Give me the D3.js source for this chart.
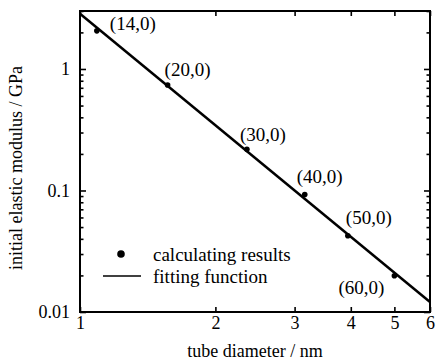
<!DOCTYPE html>
<html><head><meta charset="utf-8">
<script src="https://cdn.jsdelivr.net/npm/d3@7"></script>
<style>
html,body{margin:0;padding:0;background:#fff;}
svg{display:block;}
text{font-family:"Liberation Serif","Times New Roman",serif;fill:#000;}
</style></head>
<body><div id="chart"></div>
<script>
const chiralities = ["(14,0)","(20,0)","(30,0)","(40,0)","(50,0)","(60,0)"];
const diameters = [1.09, 1.566, 2.35, 3.16, 3.94, 5.0];
const modulus = [2.06, 0.738, 0.218, 0.0927, 0.0424, 0.0199];
const fitDiameter = [1, 6];
const fitModulus = [2.85, 0.0121];
const xTicks = [1, 2, 3, 4, 5, 6];
const yTicks = [0.01, 0.1, 1];
const yTickLabels = ["0.01", "0.1", "1"];
const legendLabels = ["calculating results", "fitting function"];
const xTitle = "tube diameter / nm";
const yTitle = "initial elastic modulus / GPa";

const W = 438, H = 363;
const m = {l:80, r:8, t:11, b:51};
const FONT = "Liberation Serif";
const svg = d3.select("#chart").append("svg").attr("width", W).attr("height", H);
const x = d3.scaleLog().domain([1, 6]).range([m.l, W - m.r]);
const y = d3.scaleLog().domain([0.01, 3]).range([H - m.b, m.t]);

const yMinor = [];
[0.01, 0.1, 1].forEach(d => { for (let k = 2; k <= 9; k++) { const v = d * k; if (v <= 3) yMinor.push(v); } });

const fs = 18;
const axB = svg.append("g").attr("transform", `translate(0,${H - m.b})`)
  .call(d3.axisBottom(x).tickValues(xTicks).tickFormat(d3.format("d")).tickSizeInner(-5).tickSizeOuter(0).tickPadding(4));
const axT = svg.append("g").attr("transform", `translate(0,${m.t})`)
  .call(d3.axisTop(x).tickValues(xTicks).tickFormat("").tickSizeInner(-5).tickSizeOuter(0));
const axL = svg.append("g").attr("transform", `translate(${m.l},0)`)
  .call(d3.axisLeft(y).tickValues(yTicks).tickFormat((d,i) => yTickLabels[i]).tickSizeInner(-6).tickSizeOuter(0).tickPadding(10));
const axR = svg.append("g").attr("transform", `translate(${W - m.r},0)`)
  .call(d3.axisRight(y).tickValues(yTicks).tickFormat("").tickSizeInner(-6).tickSizeOuter(0));
const axLm = svg.append("g").attr("transform", `translate(${m.l},0)`)
  .call(d3.axisLeft(y).tickValues(yMinor).tickFormat("").tickSizeInner(-3.5).tickSizeOuter(0));
const axRm = svg.append("g").attr("transform", `translate(${W - m.r},0)`)
  .call(d3.axisRight(y).tickValues(yMinor).tickFormat("").tickSizeInner(-3.5).tickSizeOuter(0));
[axB, axT, axL, axR, axLm, axRm].forEach(g => {
  g.select(".domain").remove();
  g.selectAll("line").attr("stroke", "#000").attr("stroke-width", 1.6);
  g.selectAll("text").attr("font-size", fs).attr("font-family", FONT);
});

svg.append("rect").attr("x", m.l).attr("y", m.t).attr("width", W - m.r - m.l).attr("height", H - m.b - m.t)
  .attr("fill", "none").attr("stroke", "#000").attr("stroke-width", 2);

const fitData = fitDiameter.map((d, i) => [d, fitModulus[i]]);
svg.append("path").datum(fitData)
  .attr("d", d3.line().x(d => x(d[0])).y(d => y(d[1])))
  .attr("stroke", "#000").attr("stroke-width", 2.5).attr("fill", "none");

const pts = diameters.map((d, i) => ({d, v: modulus[i], lab: chiralities[i]}));
svg.append("g").selectAll("circle").data(pts).join("circle")
  .attr("cx", p => x(p.d)).attr("cy", p => y(p.v)).attr("r", 2.8).attr("fill", "#000");

const offs = [[13,-7],[-3,-16],[-7,-15],[-8,-18],[-2,-18],[-56,12]];
svg.append("g").selectAll("text").data(pts).join("text")
  .attr("x", (p, i) => x(p.d) + offs[i][0]).attr("y", (p, i) => y(p.v) + offs[i][1])
  .attr("dominant-baseline", "central").attr("font-size", 19).attr("font-family", FONT).text(p => p.lab);

const lg = svg.append("g");
lg.append("circle").attr("cx", 121).attr("cy", 254).attr("r", 3.8).attr("fill", "#000");
lg.append("line").attr("x1", 103).attr("x2", 141).attr("y1", 276).attr("y2", 276).attr("stroke", "#000").attr("stroke-width", 1.6);
lg.selectAll("text").data(legendLabels).join("text")
  .attr("x", 153).attr("y", (d, i) => 254 + i * 22).attr("dominant-baseline", "central")
  .attr("font-size", 19).attr("font-family", FONT).text(d => d);

svg.append("text").attr("x", (m.l + W - m.r) / 2).attr("y", 357).attr("text-anchor", "middle")
  .attr("font-size", fs).attr("font-family", FONT).text(xTitle);
svg.append("text").attr("transform", `translate(22,168) rotate(-90)`).attr("text-anchor", "middle")
  .attr("font-size", fs).attr("font-family", FONT).text(yTitle);
</script></body></html>
